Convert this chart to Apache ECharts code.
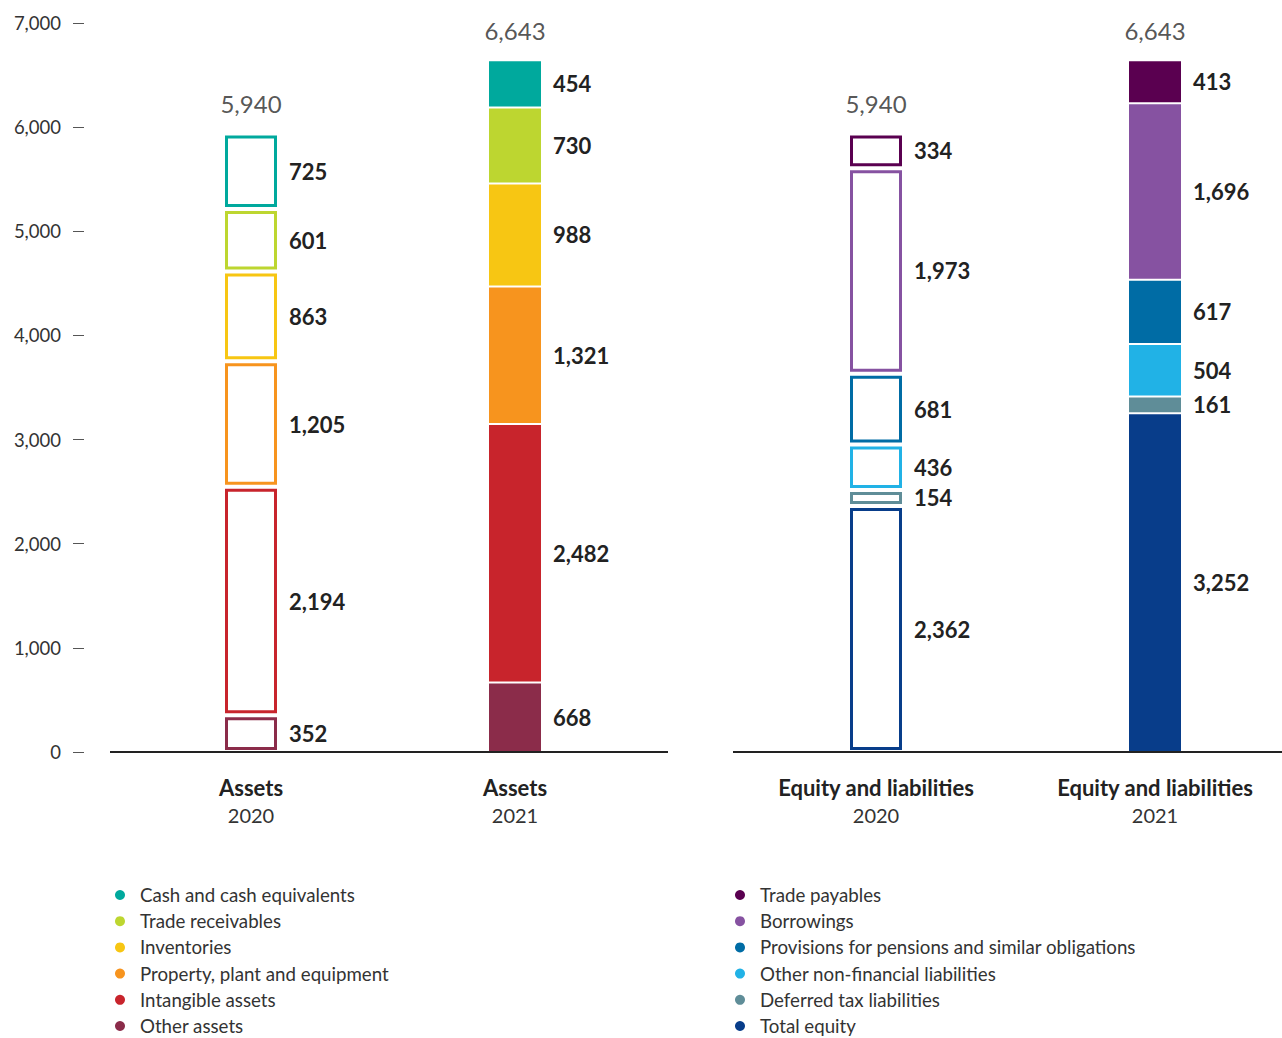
<!DOCTYPE html>
<html>
<head>
<meta charset="utf-8">
<script src="https://cdn.jsdelivr.net/npm/echarts@6/dist/echarts.min.js"></script>
<style>
  html, body { margin: 0; padding: 0; background: #fff; }
  #chart { width: 1282px; height: 1038px; }
</style>
</head>
<body>
<div id="chart"></div>
<script>
// legend order = top of the stack first
var years = ['2020', '2021'];
var leftTitle = 'Assets';
var rightTitle = 'Equity and liabilities';

var assetNames = ['Cash and cash equivalents', 'Trade receivables', 'Inventories',
                  'Property, plant and equipment', 'Intangible assets', 'Other assets'];
var assetColors = ['#00a99d', '#bdd630', '#f7c613', '#f7941e', '#c8242c', '#8b2c4a'];
var assets2020 = [725, 601, 863, 1205, 2194, 352];
var assets2021 = [454, 730, 988, 1321, 2482, 668];

var liabNames = ['Trade payables', 'Borrowings', 'Provisions for pensions and similar obligations',
                 'Other non-financial liabilities', 'Deferred tax liabilities', 'Total equity'];
var liabColors = ['#5a0050', '#8652a1', '#006ca5', '#21b2e6', '#5f8d98', '#083d8a'];
var liab2020 = [334, 1973, 681, 436, 154, 2362];
var liab2021 = [413, 1696, 617, 504, 161, 3252];

var assetTotals = [5940, 6643];
var liabTotals = [5940, 6643];

var yTicks = [0, 1000, 2000, 3000, 4000, 5000, 6000, 7000];

var FONT = 'Lato, "Open Sans", sans-serif';

function fmt(v) { return Number(v).toLocaleString('en-US'); }

var myChart = echarts.init(document.getElementById('chart'), null, { renderer: 'svg' });

function makeRender(color) {
    return function (params, api) {
        var cat = api.value(0);
        var p0 = api.coord([cat, api.value(1)]);   // bottom
        var p1 = api.coord([cat, api.value(2)]);   // top
        var half = 26;
        var rect;
        if (cat === 0) {
            // 2020 : outlined
            rect = {
                type: 'rect',
                shape: { x: p0[0] - half + 1.5, y: p1[1] + 3.5, width: half * 2 - 3, height: Math.max(p0[1] - p1[1] - 7, 1) },
                style: { fill: '#fff', stroke: color, lineWidth: 3 }
            };
        } else {
            rect = {
                type: 'rect',
                shape: { x: p0[0] - half, y: p1[1] + 1, width: half * 2, height: p0[1] - p1[1] - 2 },
                style: { fill: color }
            };
        }
        var label = {
            type: 'text',
            style: {
                text: fmt(api.value(3)),
                x: p0[0] + half + 12,
                y: (p0[1] + p1[1]) / 2,
                verticalAlign: 'middle',
                align: 'left',
                fontSize: 22,
                fontWeight: 'bold',
                fontFamily: FONT,
                fill: '#222'
            }
        };
        return { type: 'group', children: [rect, label] };
    };
}

// stack from the bottom (last item of each list) upward
function buildSeries(names, colors, v2020, v2021, axisIdx) {
    var out = [];
    var b0 = 0, b1 = 0;
    for (var i = names.length - 1; i >= 0; i--) {
        out.push({
            name: names[i],
            type: 'custom',
            xAxisIndex: axisIdx,
            yAxisIndex: axisIdx,
            clip: false,
            itemStyle: { color: colors[i] },
            renderItem: makeRender(colors[i]),
            encode: { x: 0, y: [1, 2] },
            data: [
                [0, b0, b0 + v2020[i], v2020[i]],
                [1, b1, b1 + v2021[i], v2021[i]]
            ]
        });
        b0 += v2020[i];
        b1 += v2021[i];
    }
    return out;
}

function totalSeries(totals, axisIdx) {
    return {
        type: 'scatter',
        xAxisIndex: axisIdx,
        yAxisIndex: axisIdx,
        symbolSize: 1,
        clip: false,
        itemStyle: { color: 'rgba(0,0,0,0)' },
        label: {
            show: true,
            position: 'top',
            distance: 17,
            fontSize: 24,
            fontFamily: FONT,
            color: '#2a2a2a',
            formatter: function (p) { return fmt(p.value[1]); }
        },
        data: totals.map(function (t, i) { return [i, t]; })
    };
}

function catAxis(gridIdx, title) {
    return {
        type: 'category',
        gridIndex: gridIdx,
        boundaryGap: false,
        data: years,
        axisLine: { show: false },
        axisTick: { show: false },
        splitLine: { show: false },
        axisLabel: {
            margin: 22,
            formatter: function (v) { return '{b|' + title + '}\n{n|' + v + '}'; },
            rich: {
                b: { fontFamily: FONT, fontSize: 22, fontWeight: 'bold', color: '#222', lineHeight: 27 },
                n: { fontFamily: FONT, fontSize: 20, color: '#333', lineHeight: 27 }
            }
        }
    };
}

function legendFor(names, left) {
    return {
        orient: 'vertical',
        left: left,
        top: 885,
        height: 200,
        padding: 0,
        icon: 'circle',
        itemWidth: 10,
        itemHeight: 10,
        itemGap: 6.2,
        selectedMode: false,
        data: names,
        textStyle: { fontFamily: FONT, fontSize: 18.7, lineHeight: 20, color: '#333', padding: [0, 0, 0, 10] }
    };
}

var series = []
    .concat(buildSeries(assetNames, assetColors, assets2020, assets2021, 0))
    .concat(buildSeries(liabNames, liabColors, liab2020, liab2021, 1));
series.push(totalSeries(assetTotals, 0));
series.push(totalSeries(liabTotals, 1));

option = {
    backgroundColor: '#fff',
    animation: false,
    // category centres sit on the grid edges (boundaryGap false)
    grid: [
        { left: 251, right: 767, top: 23, bottom: 286 },
        { left: 876, right: 127, top: 23, bottom: 286 }
    ],
    xAxis: [catAxis(0, leftTitle), catAxis(1, rightTitle)],
    yAxis: [
        {
            type: 'value', gridIndex: 0, min: 0, max: 7000, interval: 1000,
            offset: 167,
            splitLine: { show: false },
            axisLine: { show: false },
            axisTick: { show: true, length: 11, lineStyle: { color: '#555', width: 1 } },
            axisLabel: {
                margin: 23, fontFamily: FONT, fontSize: 18.5, color: '#333',
                formatter: function (v) { return yTicks.indexOf(v) >= 0 ? fmt(v) : ''; }
            }
        },
        {
            type: 'value', gridIndex: 1, min: 0, max: 7000, interval: 1000,
            show: false, splitLine: { show: false }
        }
    ],
    legend: [legendFor(assetNames, 115), legendFor(liabNames, 735)],
    graphic: [
        { type: 'line', shape: { x1: 110, y1: 752, x2: 668, y2: 752 }, style: { stroke: '#222', lineWidth: 2 }, z: 10 },
        { type: 'line', shape: { x1: 733, y1: 752, x2: 1282, y2: 752 }, style: { stroke: '#222', lineWidth: 2 }, z: 10 }
    ],
    series: series
};

myChart.setOption(option);
window.onresize = myChart.resize;
</script>
</body>
</html>
